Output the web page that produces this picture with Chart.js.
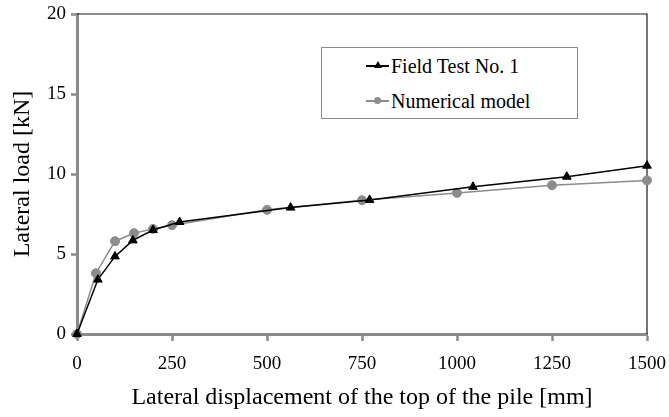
<!DOCTYPE html>
<html>
<head>
<meta charset="utf-8">
<script src="https://cdn.jsdelivr.net/npm/chart.js@4.4.1/dist/chart.umd.min.js"></script>
<style>
body { margin: 0; background: #fff; }
#wrap { position: relative; width: 669px; height: 417px; }
#legend {
    position: absolute; left: 321px; top: 47px; width: 255px; height: 70px;
    border: 1px solid #8c8c8c; background: #fff;
    font-family: 'Liberation Serif', 'Times New Roman', serif; font-size: 20px; color: #000;
}
.row { position: absolute; left: 0; width: 100%; height: 24px; line-height: 24px; white-space: nowrap; }
.sample { position: absolute; left: 44px; top: 11px; width: 23px; height: 1.5px; }
.mark { position: absolute; }
.txt { position: absolute; left: 69px; top: 0; }
</style>
</head>
<body>
<div id="wrap">
    <canvas id="chart-pile" width="669" height="417"></canvas>
    <div id="legend"></div>
</div>
<script>
// lateral displacement [mm] / lateral load [kN]
const fieldDisp = [0, 55, 100, 147, 200, 270, 562, 770, 1042, 1289, 1500];
const fieldLoad = [0, 3.4, 4.85, 5.85, 6.5, 7.0, 7.9, 8.38, 9.2, 9.83, 10.52];
const modelDisp = [0, 50, 100, 150, 200, 250, 500, 750, 1000, 1250, 1500];
const modelLoad = [0, 3.8, 5.8, 6.3, 6.57, 6.8, 7.76, 8.36, 8.82, 9.3, 9.6];

const xTicks = [0, 250, 500, 750, 1000, 1250, 1500];
const yTicks = [0, 5, 10, 15, 20];

const seriesNames = ['Field Test No. 1', 'Numerical model'];

const serif = "'Liberation Serif', 'Times New Roman', serif";
const axisGray = '#8a8a8a';

function toPoints(xs, ys) {
    return xs.map((x, i) => ({ x: x, y: ys[i] }));
}

/* marco superior y derecho */
const framePlugin = {
    id: 'frame',
    beforeDatasetsDraw(chart) {
        const { ctx, chartArea: a } = chart;
        ctx.save();
        ctx.strokeStyle = '#1a1a1a';
        ctx.lineWidth = 1.2;
        ctx.beginPath();
        ctx.moveTo(a.left, a.top);
        ctx.lineTo(a.right, a.top);
        ctx.lineTo(a.right, a.bottom);
        ctx.stroke();
        ctx.restore();
    }
};

const pileChart = new Chart(document.getElementById('chart-pile').getContext('2d'), {
    type: 'scatter',
    data: {
        datasets: [{
            label: seriesNames[0],
            data: toPoints(fieldDisp, fieldLoad),
            showLine: true,
            borderColor: '#000',
            backgroundColor: '#000',
            borderWidth: 1.5,
            pointStyle: 'triangle',
            pointRadius: 5,
            pointBorderWidth: 1,
            clip: false
        }, {
            label: seriesNames[1],
            data: toPoints(modelDisp, modelLoad),
            showLine: true,
            borderColor: '#8c8c8c',
            backgroundColor: '#8c8c8c',
            borderWidth: 1.5,
            pointStyle: 'circle',
            pointRadius: 4.5,
            pointBorderWidth: 1,
            clip: false
        }]
    },
    options: {
        responsive: false,
        animation: false,
        layout: {
            padding: { top: 14, right: 22, left: 0, bottom: 0 }
        },
        scales: {
            x: {
                type: 'linear',
                min: 0,
                max: 1500,
                afterFit: s => { s.height = 83; s.paddingLeft = 0; s.paddingRight = 0; },
                afterBuildTicks: s => { s.ticks = xTicks.map(v => ({ value: v })); },
                border: { color: axisGray, width: 3 },
                grid: { drawOnChartArea: false, tickLength: 7, tickColor: axisGray, tickWidth: 2.5 },
                ticks: {
                    padding: 12,
                    color: '#000',
                    font: { family: serif, size: 19 },
                    callback: v => String(v)
                },
                title: {
                    display: true,
                    text: 'Lateral displacement of the top of the pile [mm]',
                    color: '#000',
                    font: { family: serif, size: 24 },
                    padding: { top: 0, bottom: 5 }
                }
            },
            y: {
                min: 0,
                max: 20,
                afterFit: s => { s.width = 77; s.paddingTop = 0; s.paddingBottom = 0; },
                afterBuildTicks: s => { s.ticks = yTicks.map(v => ({ value: v })); },
                border: { color: axisGray, width: 3 },
                grid: { drawOnChartArea: false, tickLength: 6, tickColor: axisGray, tickWidth: 2.5 },
                ticks: {
                    padding: 5,
                    color: '#000',
                    font: { family: serif, size: 19 },
                    callback: v => String(v)
                },
                title: {
                    display: true,
                    text: 'Lateral load [kN]',
                    color: '#000',
                    font: { family: serif, size: 24 },
                    padding: { top: 8, bottom: 0 }
                }
            }
        },
        plugins: {
            legend: { display: false },
            tooltip: { enabled: false }
        }
    },
    plugins: [framePlugin]
});

/* Leyenda */
const rowTops = [6, 41];
const legendEl = document.getElementById('legend');
pileChart.data.datasets.forEach((ds, i) => {
    const row = document.createElement('div');
    row.className = 'row';
    row.style.top = rowTops[i] + 'px';
    const line = document.createElement('div');
    line.className = 'sample';
    line.style.background = ds.borderColor;
    row.appendChild(line);
    const mark = document.createElement('div');
    mark.className = 'mark';
    if (ds.pointStyle === 'triangle') {
        mark.style.cssText = 'left:52px;top:7px;width:0;height:0;border-left:4px solid transparent;border-right:4px solid transparent;border-bottom:7px solid ' + ds.backgroundColor;
    } else {
        mark.style.cssText = 'left:52px;top:8px;width:7px;height:7px;border-radius:50%;background:' + ds.backgroundColor;
    }
    row.appendChild(mark);
    const txt = document.createElement('span');
    txt.className = 'txt';
    txt.textContent = ds.label;
    row.appendChild(txt);
    legendEl.appendChild(row);
});
</script>
</body>
</html>
